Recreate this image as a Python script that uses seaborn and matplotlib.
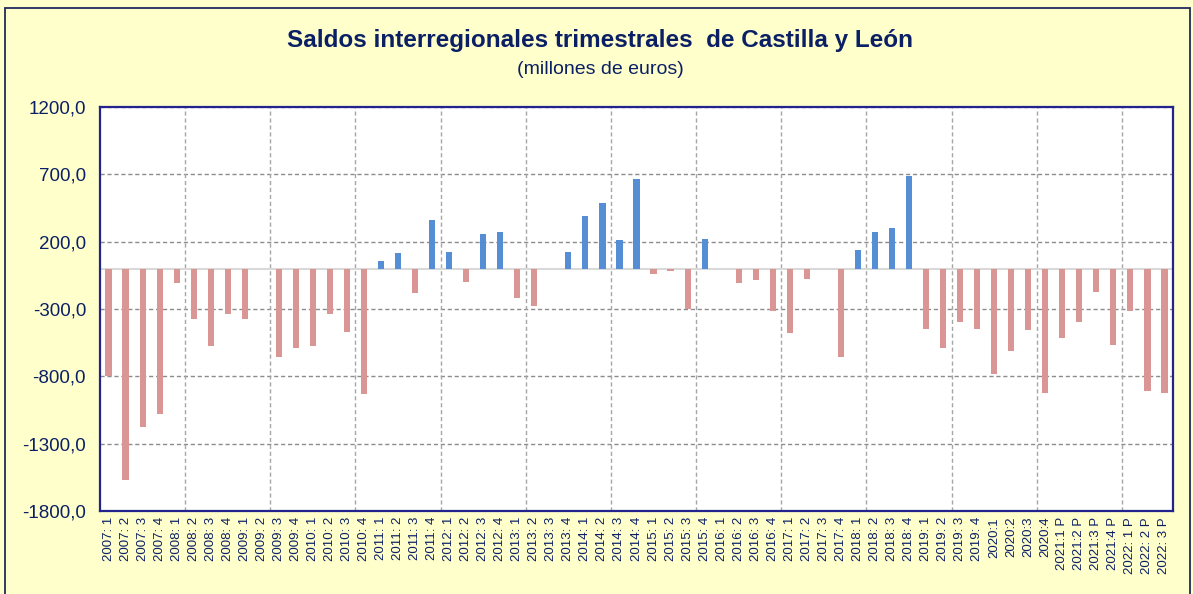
import pandas as pd
import matplotlib.pyplot as plt
import seaborn as sns
from matplotlib.patches import Rectangle

# trimestres 2007:1 .. 2022:3 (2021 y 2022 provisionales)
anios = list(range(2007, 2023))
trimestres = []
for a in anios:
    for q in range(1, 5):
        if a == 2022 and q == 4:
            break
        if a == 2020:
            trimestres.append(f"{a}:{q}")
        elif a == 2021:
            trimestres.append(f"{a}:{q} P")
        elif a == 2022:
            trimestres.append(f"{a}: {q} P")
        else:
            trimestres.append(f"{a}: {q}")

saldos = [
    -800, -1565, -1175, -1076, -111, -373, -576, -336, -373, 0,
    -658, -586, -574, -336, -470, -932, 54, 113, -181, 363,
    124, -99, 257, 270, -218, -279, 0, 124, 388, 482,
    208, 660, -37, -15, -299, 218, 0, -109, -87, -312,
    -480, -74, 0, -658, 136, 267, 304, 685, -445, -589,
    -396, -445, -779, -611, -455, -920, -517, -396, -171, -564,
    -314, -907, -920,
]

yticks = [-1800, -1300, -800, -300, 200, 700, 1200]

NAVY = "#0B1F65"
colores = {"positivo": "#558ED5", "negativo": "#DA9694"}

df = pd.DataFrame({"trimestre": trimestres, "saldo": saldos})
df["signo"] = ["positivo" if v > 0 else "negativo" for v in df["saldo"]]

sns.set_theme(style="white")
plt.rcParams["font.family"] = ["Liberation Sans", "DejaVu Sans"]

fig = plt.figure(figsize=(11.93, 5.94), dpi=100, facecolor="#FFFFCC")
ax = fig.add_axes([100 / 1193, 1 - 511.4 / 594, 1073 / 1193, 404.8 / 594])
ax.set_facecolor("white")

# grid
for y in yticks:
    ax.axhline(y, color="#8C8C8C", lw=1, ls=(0, (3, 2)), zorder=0)
for i in range(5, len(trimestres), 5):
    ax.axvline(i - 0.5, color="#A6A6A6", lw=1, ls=(0, (3, 2)), zorder=0)
ax.axhline(0, color="#D9D9D9", lw=1.5, zorder=1)

sns.barplot(
    data=df, x="trimestre", y="saldo", hue="signo", order=trimestres,
    palette=colores, saturation=1, dodge=False, width=0.36, legend=False,
    ax=ax, edgecolor="none", zorder=2,
)

ax.set_xlim(-0.5, len(trimestres) - 0.5)
ax.set_ylim(-1800, 1200)
ax.set_yticks(yticks)
ax.set_yticklabels([f"{v},0" for v in yticks], color=NAVY, fontsize=13.5)
ax.set_xticks(range(len(trimestres)))
ax.set_xticklabels(trimestres, rotation=90, ha="center", va="top",
                   color=NAVY, fontsize=9.5)
ax.tick_params(axis="x", length=0, pad=4)
ax.tick_params(axis="y", length=0, pad=10)
ax.set_xlabel("")
ax.set_ylabel("")

for s in ax.spines.values():
    s.set_visible(True)
    s.set_color("#23238E")
    s.set_linewidth(1.6)

fig.text(0.503, 1 - 41 / 594, "Saldos interregionales trimestrales  de Castilla y León",
         ha="center", va="center", fontsize=17.5, fontweight="bold", color=NAVY)
fig.text(0.503, 1 - 70 / 594, "(millones de euros)",
         ha="center", va="center", fontsize=14, color=NAVY)

fig.patches.append(Rectangle((5 / 1193, -0.05), 1185 / 1193, 1.05 - 8 / 594,
                             transform=fig.transFigure, fill=False,
                             edgecolor="#1F2A5C", lw=1.3))

fig.savefig("out.png", dpi=100, facecolor=fig.get_facecolor())
